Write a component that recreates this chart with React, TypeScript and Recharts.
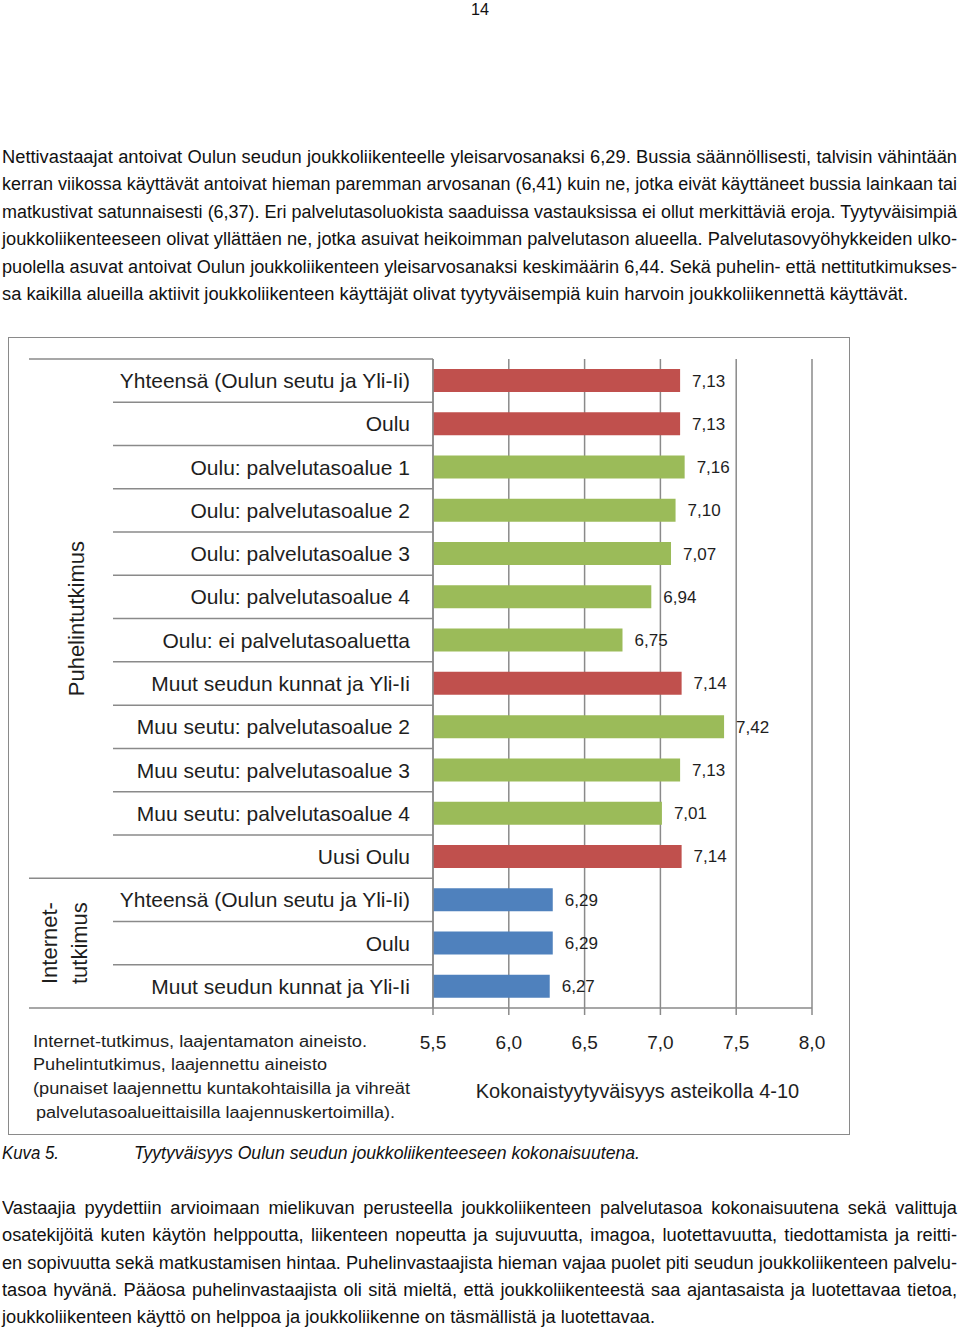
import React, { useLayoutEffect, useRef, useState } from 'react';
import { BarChart, Bar, XAxis, YAxis, CartesianGrid, Cell, LabelList } from 'recharts';

// ---------- data ----------
const categories = [
  'Yhteensä (Oulun seutu ja Yli-Ii)',
  'Oulu',
  'Oulu: palvelutasoalue 1',
  'Oulu: palvelutasoalue 2',
  'Oulu: palvelutasoalue 3',
  'Oulu: palvelutasoalue 4',
  'Oulu: ei palvelutasoaluetta',
  'Muut seudun kunnat ja Yli-Ii',
  'Muu seutu: palvelutasoalue 2',
  'Muu seutu: palvelutasoalue 3',
  'Muu seutu: palvelutasoalue 4',
  'Uusi Oulu',
  'Yhteensä (Oulun seutu ja Yli-Ii)',
  'Oulu',
  'Muut seudun kunnat ja Yli-Ii',
];
const values = [7.13, 7.13, 7.16, 7.10, 7.07, 6.94, 6.75, 7.14, 7.42, 7.13, 7.01, 7.14, 6.29, 6.29, 6.27];
const kinds = ['red', 'red', 'green', 'green', 'green', 'green', 'green', 'red', 'green', 'green', 'green', 'red', 'blue', 'blue', 'blue'];
const xTicks = [5.5, 6.0, 6.5, 7.0, 7.5, 8.0];
const groupPhone = 'Puhelintutkimus';
const groupNet = ['Internet-', 'tutkimus'];
const xTitle = 'Kokonaistyytyväisyys asteikolla 4-10';
const notes = [
  'Internet-tutkimus, laajentamaton aineisto.',
  'Puhelintutkimus, laajennettu aineisto',
  '(punaiset laajennettu kuntakohtaisilla ja vihreät',
  'palvelutasoalueittaisilla laajennuskertoimilla).',
];
const para1 = [
  'Nettivastaajat antoivat Oulun seudun joukkoliikenteelle yleisarvosanaksi 6,29. Bussia säännöllisesti, talvisin vähintään',
  'kerran viikossa käyttävät antoivat hieman paremman arvosanan (6,41) kuin ne, jotka eivät käyttäneet bussia lainkaan tai',
  'matkustivat satunnaisesti (6,37). Eri palvelutasoluokista saaduissa vastauksissa ei ollut merkittäviä eroja. Tyytyväisimpiä',
  'joukkoliikenteeseen olivat yllättäen ne, jotka asuivat heikoimman palvelutason alueella. Palvelutasovyöhykkeiden ulko-',
  'puolella asuvat antoivat Oulun joukkoliikenteen yleisarvosanaksi keskimäärin 6,44. Sekä puhelin- että nettitutkimukses-',
  'sa kaikilla alueilla aktiivit joukkoliikenteen käyttäjät olivat tyytyväisempiä kuin harvoin joukkoliikennettä käyttävät.',
];
const para2 = [
  'Vastaajia pyydettiin arvioimaan mielikuvan perusteella joukkoliikenteen palvelutasoa kokonaisuutena sekä valittuja',
  'osatekijöitä kuten käytön helppoutta, liikenteen nopeutta ja sujuvuutta, imagoa, luotettavuutta, tiedottamista ja reitti-',
  'en sopivuutta sekä matkustamisen hintaa. Puhelinvastaajista hieman vajaa puolet piti seudun joukkoliikenteen palvelu-',
  'tasoa hyvänä. Pääosa puhelinvastaajista oli sitä mieltä, että joukkoliikenteestä saa ajantasaista ja luotettavaa tietoa,',
  'joukkoliikenteen käyttö on helppoa ja joukkoliikenne on täsmällistä ja luotettavaa.',
];
const captionNum = 'Kuva 5.';
const captionText = 'Tyytyväisyys Oulun seudun joukkoliikenteeseen kokonaisuutena.';
const pageNumber = '14';

const COLORS: Record<string, string> = { red: '#C0504D', green: '#9BBB59', blue: '#4F81BD' };
const rows = categories.map((c, i) => ({ id: 'r' + i, label: c, value: values[i], kind: kinds[i] }));

// ---------- layout ----------
const FONT = '"Liberation Sans", Arial, sans-serif';
const CHART_W = 840;
const CHART_H = 796;
const PLOT_TOP = 21;
const PLOT_BOTTOM = 670;
const Y_W = 424;
const BAND = (PLOT_BOTTOM - PLOT_TOP) / categories.length;
const GRID = '#8a8a8a';

// ---------- text helpers ----------
function Para(props: {
  lines: string[]; left: number; width: number; lastWidth: number; baselines: number[];
  fontSize: number; italic?: boolean; color?: string; lh?: number;
}) {
  const { lines, left, width, lastWidth, baselines, fontSize, italic, color } = props;
  const lh = props.lh || 1.2;
  const refs = useRef<(HTMLSpanElement | null)[]>([]);
  const [nat, setNat] = useState<number[] | null>(null);
  useLayoutEffect(() => {
    setNat(refs.current.map((el) => (el ? el.getBoundingClientRect().width : 1)));
  }, []);
  const base: React.CSSProperties = {
    fontFamily: FONT, fontSize, fontStyle: italic ? 'italic' : 'normal', lineHeight: lh,
    color: color || '#111',
  };
  const asc = fontSize * (0.905 + (lh - 1.117) / 2);
  const s = nat ? lastWidth / nat[lines.length - 1] : 1;
  return (
    <>
      {lines.map((t, i) => (
        <span
          key={'m' + i}
          ref={(el) => { refs.current[i] = el; }}
          style={{ ...base, position: 'absolute', left: 0, top: 0, visibility: 'hidden', whiteSpace: 'pre' }}
        >{t}</span>
      ))}
      {nat && lines.map((t, i) => {
        const last = i === lines.length - 1;
        const sc = last ? s : Math.min(s, (width - 0.5) / nat[i]);
        const w = last ? nat[i] + 4 : width / sc;
        return (
          <div
            key={i}
            style={{
              ...base, position: 'absolute', left, top: baselines[i] - asc, width: w,
              transform: `scaleX(${sc})`, transformOrigin: '0 0',
              textAlign: last ? 'left' : 'justify', textAlignLast: last ? 'left' : 'justify',
            } as React.CSSProperties}
          >{t}</div>
        );
      })}
    </>
  );
}

// ---------- chart ticks ----------
function CatTick(props: any) {
  const { x, y, payload } = props;
  const idx = rows.findIndex((r) => r.id === payload.value);
  const row = rows[idx];
  const top = y - BAND / 2;
  const longStart = 20;
  const shortStart = 104;
  const els: React.ReactNode[] = [];
  els.push(
    <line key="t" x1={idx === 0 || idx === 12 ? longStart : shortStart} x2={x} y1={top} y2={top}
      stroke={GRID} strokeWidth={1.5} />
  );
  if (idx === categories.length - 1) {
    els.push(<line key="b" x1={longStart} x2={x} y1={y + BAND / 2} y2={y + BAND / 2} stroke={GRID} strokeWidth={1.5} />);
  }
  els.push(
    <text key="l" x={x - 23} y={y} textAnchor="end" dominantBaseline="central"
      fontFamily={FONT} fontSize={21} fill="#1e1e1e">{row ? row.label : ''}</text>
  );
  if (idx === 5) {
    const cx = 68, cy = y + BAND / 2;
    els.push(
      <text key="g1" x={cx} y={cy} textAnchor="middle" dominantBaseline="central"
        transform={`rotate(-90, ${cx}, ${cy})`} fontFamily={FONT} fontSize={22} fill="#1e1e1e">{groupPhone}</text>
    );
  }
  if (idx === 13) {
    const cy = y;
    els.push(
      <text key="g2" x={41} y={cy} textAnchor="middle" dominantBaseline="central"
        transform={`rotate(-90, 41, ${cy})`} fontFamily={FONT} fontSize={22} fill="#1e1e1e">{groupNet[0]}</text>
    );
    els.push(
      <text key="g3" x={71} y={cy} textAnchor="middle" dominantBaseline="central"
        transform={`rotate(-90, 71, ${cy})`} fontFamily={FONT} fontSize={22} fill="#1e1e1e">{groupNet[1]}</text>
    );
  }
  return <g>{els}</g>;
}

const fmt1 = (v: number) => v.toFixed(1).replace('.', ',');
const fmt2 = (v: any) => Number(v).toFixed(2).replace('.', ',');

export default function App() {
  return (
    <div style={{ position: 'absolute', left: 0, top: 0, width: 960, height: 1328, background: '#fff', overflow: 'hidden' }}>
      <Para lines={[pageNumber]} left={471} width={20} lastWidth={18} baselines={[15.5]} fontSize={17} lh={1.0} />
      <Para lines={para1} left={2} width={955} lastWidth={906} baselines={[164, 191.5, 219, 246.5, 274, 301.5]} fontSize={18} />

      <div style={{
        position: 'absolute', left: 8, top: 337, width: 842, height: 798,
        border: '1px solid #8a8a8a', boxSizing: 'border-box', background: '#fff',
      }}>
        <BarChart
          width={CHART_W}
          height={CHART_H}
          data={rows}
          layout="vertical"
          margin={{ top: PLOT_TOP, right: 37, bottom: 0, left: 0 }}
        >
          <CartesianGrid horizontal={false} stroke={GRID} strokeWidth={1.5} />
          <XAxis
            type="number"
            domain={[5.5, 8]}
            ticks={xTicks}
            tickFormatter={fmt1}
            height={CHART_H - PLOT_BOTTOM}
            axisLine={{ stroke: GRID, strokeWidth: 1.5 }}
            tickLine={{ stroke: GRID, strokeWidth: 1.5 }}
            tickSize={7}
            tickMargin={21}
            tick={{ fontFamily: FONT, fontSize: 19, fill: '#1e1e1e' }}
            label={{ value: xTitle, position: 'insideBottom', offset: 36, dx: 15, fontFamily: FONT, fontSize: 20, fill: '#1e1e1e' }}
          />
          <YAxis
            type="category"
            dataKey="id"
            width={Y_W}
            interval={0}
            tickSize={0}
            tickMargin={0}
            tickLine={false}
            axisLine={{ stroke: GRID, strokeWidth: 1.5 }}
            tick={(p: any) => <CatTick {...p} />}
          />
          <Bar dataKey="value" barSize={23} isAnimationActive={false}>
            {rows.map((r) => (
              <Cell key={r.id} fill={COLORS[r.kind]} />
            ))}
            <LabelList dataKey="value" position="right" offset={12} formatter={fmt2}
              style={{ fontFamily: FONT, fontSize: 17, fill: '#1e1e1e' }} />
          </Bar>
        </BarChart>
      </div>

      <Para lines={[notes[0]]} left={33} width={340} lastWidth={334} baselines={[1047]} fontSize={16} color="#1e1e1e" />
      <Para lines={[notes[1]]} left={33} width={300} lastWidth={294} baselines={[1070]} fontSize={16} color="#1e1e1e" />
      <Para lines={[notes[2]]} left={33} width={380} lastWidth={377} baselines={[1094]} fontSize={16} color="#1e1e1e" />
      <Para lines={[notes[3]]} left={36} width={362} lastWidth={359} baselines={[1118]} fontSize={16} color="#1e1e1e" />

      <Para lines={[captionNum]} left={2} width={60} lastWidth={57} baselines={[1160]} fontSize={18} italic />
      <Para lines={[captionText]} left={134} width={510} lastWidth={506} baselines={[1160]} fontSize={18} italic />

      <Para lines={para2} left={2} width={955} lastWidth={653} baselines={[1215, 1242.3, 1269.6, 1296.9, 1324.2]} fontSize={18} />
    </div>
  );
}
